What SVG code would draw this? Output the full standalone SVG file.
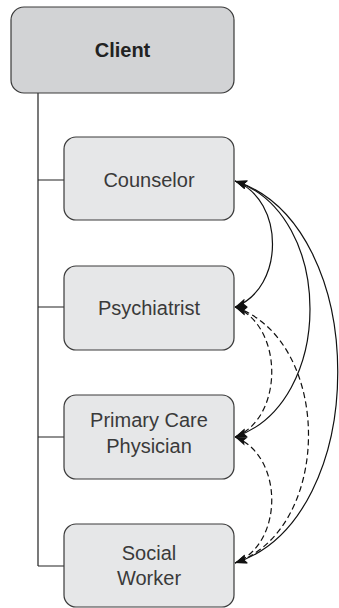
<svg xmlns="http://www.w3.org/2000/svg" width="339" height="608" viewBox="0 0 339 608">
<defs>
<style>
.box{fill:#e6e7e8;stroke:#3a3a3a;stroke-width:1.2}
.top{fill:#d2d3d5;stroke:#3a3a3a;stroke-width:1.2}
.lbl{font-family:"Liberation Sans",Arial,sans-serif;font-size:20px;fill:#3a3a3a;text-anchor:middle}
.bold{font-weight:bold;font-size:20px;fill:#222}
.tree{fill:none;stroke:#222;stroke-width:1.2}
.arc{fill:none;stroke:#111;stroke-width:1.2}
.dash{stroke-dasharray:6 3.5}
</style>
<marker id="ah" viewBox="0 0 12 9" refX="12" refY="4.5" markerWidth="12" markerHeight="9" markerUnits="userSpaceOnUse" orient="auto-start-reverse">
<path d="M0,0 L12,4.5 L0,9 L2.5,4.5 Z" fill="#111"/>
</marker>
</defs>
<g id="connectors">
<path class="tree" d="M38,93 V566 M38,180 H64 M38,307 H64 M38,437 H64 M38,566 H64"/>
<path class="arc" marker-start="url(#ah)" marker-end="url(#ah)" d="M235,181 C285,200 285,288 235,307"/>
<path class="arc" marker-start="url(#ah)" marker-end="url(#ah)" d="M235,181 C335,215 335,403 235,437"/>
<path class="arc" marker-start="url(#ah)" marker-end="url(#ah)" d="M235,181 C372,225 372,519 235,563"/>
<path class="arc dash" marker-start="url(#ah)" marker-end="url(#ah)" d="M235,307 C284,326 284,418 235,437"/>
<path class="arc dash" marker-start="url(#ah)" marker-end="url(#ah)" d="M235,307 C333,341 333,529 235,563"/>
<path class="arc dash" marker-start="url(#ah)" marker-end="url(#ah)" d="M235,437 C284,456 284,544 235,563"/>
</g>
<g id="client">
<rect class="top" x="11" y="7" width="223" height="86" rx="13"/>
<text class="lbl bold" x="122.5" y="57">Client</text>
</g>
<g id="counselor">
<rect class="box" x="64" y="137" width="170" height="83" rx="12"/>
<text class="lbl" x="149" y="187">Counselor</text>
</g>
<g id="psychiatrist">
<rect class="box" x="64" y="266" width="170" height="84" rx="12"/>
<text class="lbl" x="149" y="315">Psychiatrist</text>
</g>
<g id="primary-care">
<rect class="box" x="64" y="395" width="170" height="84" rx="12"/>
<text class="lbl" x="149" y="427">Primary Care</text>
<text class="lbl" x="149" y="453">Physician</text>
</g>
<g id="social-worker">
<rect class="box" x="64" y="524" width="170" height="83" rx="12"/>
<text class="lbl" x="149" y="560">Social</text>
<text class="lbl" x="149" y="585">Worker</text>
</g>
</svg>
